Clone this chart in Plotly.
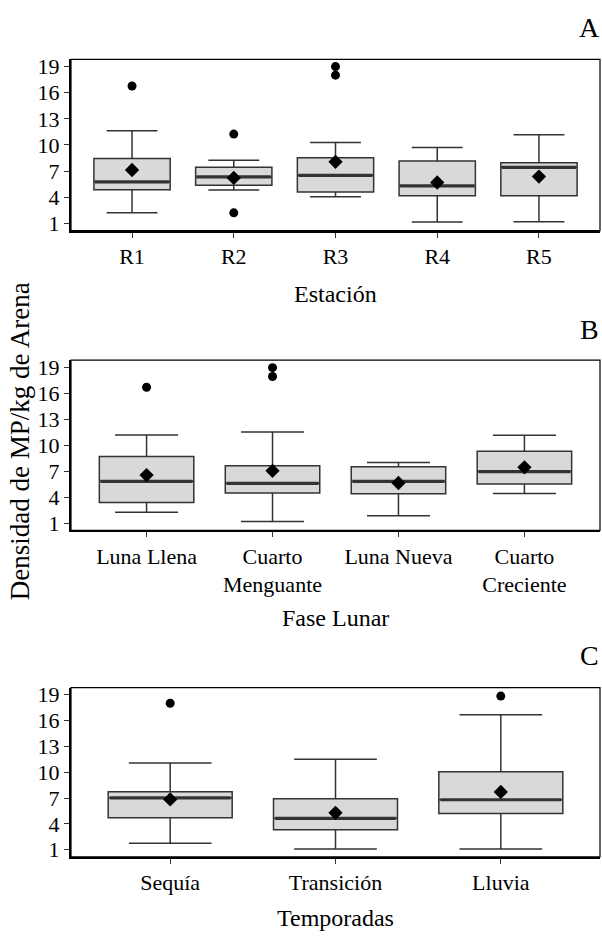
import plotly.graph_objects as go

# ---------------- data ----------------
cats_a = ["R1", "R2", "R3", "R4", "R5"]
q1_a = [4.86, 5.39, 4.59, 4.18, 4.18]
med_a = [5.77, 6.33, 6.52, 5.31, 7.43]
q3_a = [8.45, 7.43, 8.53, 8.15, 7.96]
lo_a = [2.21, 4.82, 4.06, 1.15, 1.19]
hi_a = [11.63, 8.26, 10.30, 9.70, 11.17]
mean_a = [7.13, 6.22, 8.07, 5.69, 6.37]
out_a_cat = ["R1", "R2", "R2", "R3", "R3"]
out_a_val = [16.77, 11.25, 2.21, 19.0, 18.02]

cats_b = ["Luna Llena", "Cuarto<br>Menguante", "Luna Nueva", "Cuarto<br>Creciente"]
q1_b = [3.38, 4.47, 4.40, 5.53]
med_b = [5.83, 5.60, 5.83, 6.96]
q3_b = [8.70, 7.64, 7.53, 9.30]
lo_b = [2.25, 1.19, 1.87, 4.43]
hi_b = [11.19, 11.53, 8.02, 11.15]
mean_b = [6.55, 7.04, 5.64, 7.45]
out_b_cat = ["Luna Llena", "Cuarto<br>Menguante", "Cuarto<br>Menguante"]
out_b_val = [16.70, 18.96, 17.94]

cats_c = ["Sequía", "Transición", "Lluvia"]
q1_c = [4.71, 3.31, 5.21]
med_c = [7.03, 4.64, 6.80]
q3_c = [7.74, 6.91, 10.06]
lo_c = [1.76, 1.08, 1.08]
hi_c = [11.08, 11.50, 16.69]
mean_c = [6.84, 5.28, 7.71]
out_c_cat = ["Sequía", "Lluvia"]
out_c_val = [18.01, 18.85]

y_ticks = [1, 4, 7, 10, 13, 16, 19]

panels = [
    ("A", "Estación", cats_a, q1_a, med_a, q3_a, lo_a, hi_a, mean_a, out_a_cat, out_a_val),
    ("B", "Fase Lunar", cats_b, q1_b, med_b, q3_b, lo_b, hi_b, mean_b, out_b_cat, out_b_val),
    ("C", "Temporadas", cats_c, q1_c, med_c, q3_c, lo_c, hi_c, mean_c, out_c_cat, out_c_val),
]

# ---------------- style ----------------
FONT = "Liberation Serif"
BOX_FILL = "#D9D9D9"
BOX_LINE = "#333333"
BW = 0.75
xdom = [71 / 602, 600 / 602]
ydoms = [[0.7569, 0.9414], [0.4339, 0.6173], [0.0821, 0.2644]]
xtitle_y = [292, 620, 923]
letter_y = [23, 328, 658]

fig = go.Figure()
layout = {}
shapes = []
annotations = []

for i, (letter, xtitle, cats, q1, med, q3, lo, hi, mn, ocat, oval) in enumerate(panels):
    n = i + 1
    xa = "x" if n == 1 else f"x{n}"
    ya = "y" if n == 1 else f"y{n}"
    pos = list(range(1, len(cats) + 1))
    idx = {c: p for c, p in zip(cats, pos)}

    fig.add_trace(go.Box(
        x=pos, q1=q1, median=med, q3=q3, lowerfence=lo, upperfence=hi,
        width=BW, whiskerwidth=0.5 / BW, boxpoints=False,
        fillcolor=BOX_FILL, line=dict(color=BOX_LINE, width=1.5),
        xaxis=xa, yaxis=ya, showlegend=False, hoverinfo="skip",
    ))
    # thicker median line
    mx, my = [], []
    for p, m in zip(pos, med):
        mx += [p - BW / 2 + 0.01, p + BW / 2 - 0.01, None]
        my += [m, m, None]
    fig.add_trace(go.Scatter(
        x=mx, y=my, mode="lines", line=dict(color=BOX_LINE, width=3.2),
        xaxis=xa, yaxis=ya, showlegend=False, hoverinfo="skip",
    ))
    # outliers
    fig.add_trace(go.Scatter(
        x=[idx[c] for c in ocat], y=oval, mode="markers",
        marker=dict(color="black", size=9, symbol="circle"),
        xaxis=xa, yaxis=ya, showlegend=False,
    ))
    # means
    fig.add_trace(go.Scatter(
        x=pos, y=mn, mode="markers",
        marker=dict(color="black", size=11, symbol="diamond"),
        xaxis=xa, yaxis=ya, showlegend=False,
    ))

    layout[f"xaxis{'' if n == 1 else n}"] = dict(
        domain=xdom, anchor=ya, range=[0.4, len(cats) + 0.6],
        tickmode="array", tickvals=pos, ticktext=cats,
        showline=True, linewidth=2.2, linecolor="black",
        ticks="outside", ticklen=5, tickwidth=1.3, tickcolor="#333333",
        showgrid=False, zeroline=False,
        tickfont=dict(family=FONT, size=22, color="black"),
    )
    layout[f"yaxis{'' if n == 1 else n}"] = dict(
        domain=ydoms[i], anchor=xa, range=[0.17, 19.83],
        tickmode="array", tickvals=y_ticks,
        showline=True, linewidth=2.2, linecolor="black",
        ticks="outside", ticklen=5, tickwidth=1.3, tickcolor="#333333",
        showgrid=False, zeroline=False,
        tickfont=dict(family=FONT, size=22, color="black"),
    )
    shapes.append(dict(
        type="rect", xref=f"{xa} domain", yref=f"{ya} domain",
        x0=0, x1=1, y0=0, y1=1, line=dict(color="black", width=1.2),
        fillcolor="rgba(0,0,0,0)", layer="above",
    ))
    annotations.append(dict(
        text=xtitle, xref="paper", yref="paper",
        x=(xdom[0] + xdom[1]) / 2, y=1 - xtitle_y[i] / 938,
        showarrow=False, font=dict(family=FONT, size=24, color="black"),
        xanchor="center", yanchor="middle",
    ))
    annotations.append(dict(
        text=letter, xref="paper", yref="paper",
        x=589 / 602, y=1 - letter_y[i] / 938,
        showarrow=False, font=dict(family=FONT, size=28, color="black"),
        xanchor="center", yanchor="middle",
    ))

annotations.append(dict(
    text="Densidad de MP/kg de Arena", xref="paper", yref="paper",
    x=20 / 602, y=1 - 441 / 938, textangle=-90,
    showarrow=False, font=dict(family=FONT, size=27, color="black"),
    xanchor="center", yanchor="middle",
))

fig.update_layout(
    **layout,
    shapes=shapes, annotations=annotations,
    width=602, height=938,
    margin=dict(l=0, r=0, t=0, b=0),
    paper_bgcolor="white", plot_bgcolor="white",
    font=dict(family=FONT, color="black"),
)

fig.write_html(
    "out.html",
    config={"displayModeBar": False},
    post_script="document.body.style.margin='0';document.body.style.overflow='hidden';",
)
